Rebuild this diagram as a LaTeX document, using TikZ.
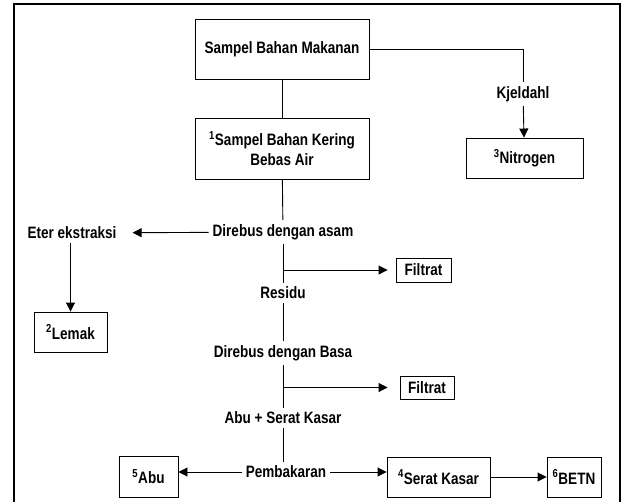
\documentclass[tikz,border=0pt]{standalone}
\usepackage{fontspec}
\setmainfont{Liberation Sans}[FakeStretch=0.82]
\usepackage{xcolor}
\usepackage{tikz}
\usetikzlibrary{positioning,arrows.meta,calc}
\definecolor{lnDark}{HTML}{000000}
\tikzset{
  boxk/.style={draw=lnDark, line width=0.9pt, align=center, inner sep=2pt, fill=white},
  lbl/.style={align=center, inner sep=4pt},
  ln/.style={line width=0.9pt, lnDark},
  arr/.style={-{Triangle[length=9pt,width=9pt]}, line width=0.9pt, lnDark},
}

\begin{document}
\begin{tikzpicture}[x=1pt, y=-1pt, font=\bfseries\fontsize{16.5}{20}\selectfont]
  \useasboundingbox (0,0) rectangle (626,501);
  \draw[line width=2.6pt] (14,4) rectangle (620,530);
  % kotak utama
  \node[boxk, minimum width=174pt, minimum height=60pt] (main) at (282,49) {Sampel Bahan Makanan};
  \node[boxk, minimum width=174pt, minimum height=61pt] (dry) at (282,148.5) {\textsuperscript{1}Sampel Bahan Kering\\Bebas Air};
  \node[lbl] (kj) at (523,94) {Kjeldahl};
  \node[boxk, minimum width=117pt, minimum height=40pt] (nitro) at (524.5,158) {\textsuperscript{3}Nitrogen};
  \node[lbl] (asam) at (283,232) {Direbus dengan asam};
  \node[lbl] (eter) at (72,233) {Eter ekstraksi};
  \node[boxk, minimum width=73pt, minimum height=40pt] (lemak) at (70.5,332) {\textsuperscript{2}Lemak};
  \node[boxk, minimum width=55pt, minimum height=24pt] (f1) at (423.5,270) {Filtrat};
  \node[lbl] (residu) at (283,293) {Residu};
  \node[lbl] (basa) at (283,353) {Direbus dengan Basa};
  \node[boxk, minimum width=54pt, minimum height=23pt] (f2) at (427,387.5) {Filtrat};
  \node[lbl] (aks) at (283,418) {Abu + Serat Kasar};
  \node[lbl] (pemb) at (286,472) {Pembakaran};
  \node[boxk, minimum width=59pt, minimum height=41pt] (abu) at (148.5,476.5) {\textsuperscript{5}Abu};
  \node[boxk, minimum width=103pt, minimum height=40pt] (serat) at (438.5,477) {\textsuperscript{4}Serat Kasar};
  \node[boxk, minimum width=54pt, minimum height=40pt] (betn) at (574,477) {\textsuperscript{6}BETN};
  % alur
  \draw[ln] (main) -- (dry);
  \draw[ln] (main.east) -| (kj.north);
  \draw[arr] (kj) -- (nitro);
  \draw[ln] (dry) -- (asam);
  \draw[arr, shorten >=12pt] (asam) -- (eter);
  \draw[arr] (eter.south -| lemak.north) -- (lemak.north);
  \draw[ln] (asam) -- (residu);
  \draw[arr, shorten >=8pt] (asam |- f1) -- (f1);
  \draw[ln] (residu) -- (basa);
  \draw[ln] (basa) -- (aks);
  \draw[arr, shorten >=12pt] (basa |- f2) -- (f2);
  \draw[ln] (aks) -- (aks |- pemb.north);
  \draw[arr] (pemb.west) -- (pemb.west -| abu.east);
  \draw[arr] (pemb.east) -- (pemb.east -| serat.west);
  \draw[arr] (serat) -- (betn);
\end{tikzpicture}
\end{document}
